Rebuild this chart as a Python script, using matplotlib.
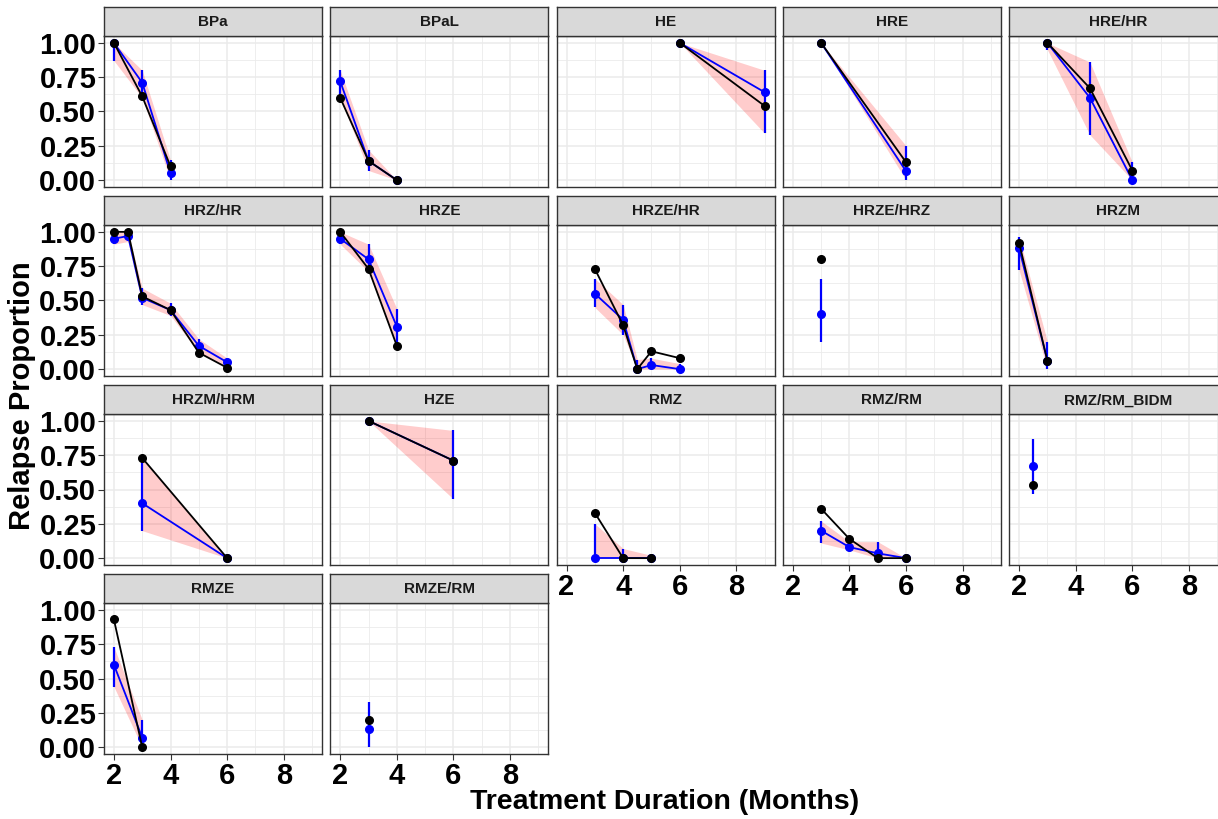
import matplotlib.pyplot as plt
import numpy as np

plt.rcParams['font.family'] = ['Liberation Sans', 'DejaVu Sans']

regimens = ['BPa', 'BPaL', 'HE', 'HRE', 'HRE/HR', 'HRZ/HR', 'HRZE', 'HRZE/HR',
            'HRZE/HRZ', 'HRZM', 'HRZM/HRM', 'HZE', 'RMZ', 'RMZ/RM',
            'RMZ/RM_BIDM', 'RMZE', 'RMZE/RM']

months = [[2, 3, 4], [2, 3, 4], [6, 9], [3, 6], [3, 4.5, 6],
          [2, 2.5, 3, 4, 5, 6], [2, 3, 4], [3, 4, 4.5, 5, 6], [3], [2, 3],
          [3, 6], [3, 6], [3, 4, 5], [3, 4, 5, 6], [2.5], [2, 3], [3]]

observed = [[1.0, 0.61, 0.10], [0.60, 0.14, 0.0], [1.0, 0.54], [1.0, 0.13],
            [1.0, 0.67, 0.07], [1.0, 1.0, 0.53, 0.43, 0.12, 0.01],
            [1.0, 0.73, 0.17], [0.73, 0.32, 0.0, 0.13, 0.08], [0.80],
            [0.92, 0.06], [0.73, 0.0], [1.0, 0.71], [0.33, 0.0, 0.0],
            [0.36, 0.14, 0.0, 0.0], [0.53], [0.93, 0.0], [0.20]]

predicted = [[1.0, 0.71, 0.05], [0.72, 0.14, 0.0], [1.0, 0.64], [1.0, 0.065],
             [1.0, 0.60, 0.0], [0.95, 0.97, 0.52, 0.43, 0.17, 0.05],
             [0.95, 0.80, 0.31], [0.55, 0.36, 0.0, 0.03, 0.0], [0.40],
             [0.88, 0.06], [0.40, 0.0], [1.0, 0.71], [0.0, 0.0, 0.0],
             [0.20, 0.08, 0.035, 0.0], [0.67], [0.60, 0.07], [0.135]]

pred_lo = [[0.87, 0.60, 0.0], [0.60, 0.07, 0.0], [1.0, 0.34], [1.0, 0.0],
           [0.95, 0.33, 0.0], [0.91, 0.93, 0.47, 0.39, 0.12, 0.02],
           [0.91, 0.71, 0.17], [0.45, 0.25, 0.0, 0.0, 0.0], [0.20],
           [0.72, 0.0], [0.20, 0.0], [1.0, 0.43], [0.0, 0.0, 0.0],
           [0.11, 0.06, 0.0, 0.0], [0.47], [0.44, 0.0], [0.0]]

pred_hi = [[1.0, 0.80, 0.145], [0.80, 0.22, 0.0], [1.0, 0.80], [1.0, 0.25],
           [1.0, 0.86, 0.13], [1.0, 1.0, 0.59, 0.48, 0.22, 0.08],
           [1.0, 0.91, 0.44], [0.66, 0.47, 0.07, 0.08, 0.04], [0.66],
           [0.96, 0.20], [0.73, 0.0], [1.0, 0.93], [0.25, 0.07, 0.02],
           [0.27, 0.12, 0.12, 0.0], [0.87], [0.73, 0.20], [0.33]]

W, H = 1218, 819
fig = plt.figure(figsize=(W / 100, H / 100), dpi=100)

left0, col_step, pw = 104, 226.3, 218
top0, row_step, sh, ph = 7, 189, 29, 151
ncol = 5
n = len(regimens)

for i, name in enumerate(regimens):
    r, c = divmod(i, ncol)
    x0 = left0 + c * col_step
    ytop = top0 + r * row_step
    ax = fig.add_axes([x0 / W, 1 - (ytop + sh + ph) / H, pw / W, ph / H])
    sax = fig.add_axes([x0 / W, 1 - (ytop + sh) / H, pw / W, sh / H])
    sax.set_facecolor('#D9D9D9')
    sax.set_xticks([])
    sax.set_yticks([])
    for s in sax.spines.values():
        s.set_color('#333333')
        s.set_linewidth(1.0)
    sax.text(0.5, 0.47, name, ha='center', va='center', fontsize=11,
             fontweight='bold', color='#1A1A1A', transform=sax.transAxes)

    x = np.array(months[i])
    ax.fill_between(x, pred_lo[i], pred_hi[i], color='red', alpha=0.2, lw=0)
    ax.vlines(x, pred_lo[i], pred_hi[i], color='blue', lw=1.6, zorder=3)
    ax.plot(x, predicted[i], '-o', color='blue', lw=1.3, ms=5.5, zorder=4)
    ax.plot(x, observed[i], '-o', color='black', lw=1.3, ms=5.5, zorder=5)

    ax.set_xlim(1.65, 9.35)
    ax.set_ylim(-0.05, 1.05)
    ax.set_xticks([2, 4, 6, 8])
    ax.set_xticks([3, 5, 7, 9], minor=True)
    ax.set_yticks([0, 0.25, 0.5, 0.75, 1.0])
    ax.set_yticks([0.125, 0.375, 0.625, 0.875], minor=True)
    ax.grid(True, which='major', color='#EBEBEB', lw=1.1)
    ax.grid(True, which='minor', color='#EBEBEB', lw=0.6)
    ax.set_axisbelow(True)
    for s in ax.spines.values():
        s.set_color('#333333')
        s.set_linewidth(1.0)

    bottom = i + ncol >= n
    ax.tick_params(which='minor', length=0)
    ax.tick_params(axis='x', which='major', length=4 if bottom else 0,
                   color='#333333', labelbottom=bottom, labelsize=21, pad=1.5)
    ax.tick_params(axis='y', which='major', length=4 if c == 0 else 0,
                   color='#333333', labelleft=(c == 0), labelsize=21, pad=1.5)
    for lab in ax.get_xticklabels() + ax.get_yticklabels():
        lab.set_fontweight('bold')
        lab.set_color('black')
    if c == 0:
        ax.set_yticklabels(['0.00', '0.25', '0.50', '0.75', '1.00'])

fig.text(22 / W, 1 - 396 / H, 'Relapse Proportion', rotation=90,
         ha='center', va='center', fontsize=21, fontweight='bold')
fig.text(665 / W, 1 - 802 / H, 'Treatment Duration (Months)',
         ha='center', va='center', fontsize=20.5, fontweight='bold')

fig.savefig('out.png', dpi=100, facecolor='white')
